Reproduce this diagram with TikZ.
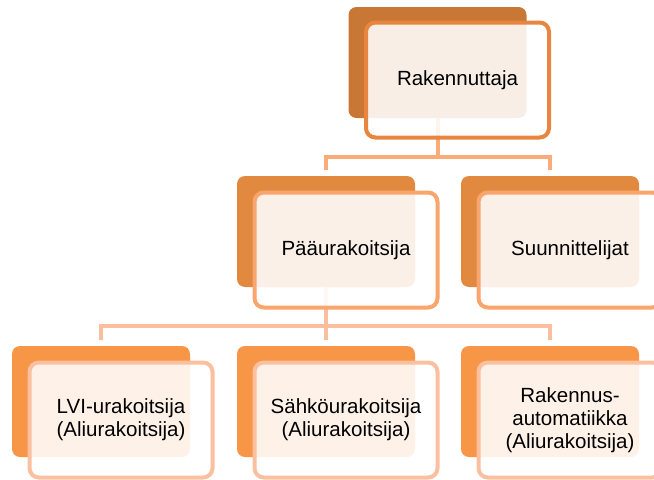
\documentclass[tikz,border=0pt]{standalone}
\usepackage{fontspec}
\setmainfont{Liberation Sans}
\definecolor{topdark}{HTML}{C87734}
\definecolor{topline}{HTML}{E8853F}
\definecolor{middark}{HTML}{E0893F}
\definecolor{midline}{HTML}{F8A56E}
\definecolor{botdark}{HTML}{F79646}
\definecolor{botline}{HTML}{FBC0A0}
\definecolor{connA}{HTML}{F9AC77}
\definecolor{connB}{HTML}{FBBFA0}
\begin{document}
\begin{tikzpicture}[x=0.75pt,y=-0.75pt,
  back/.style={rounded corners=6pt, minimum width=133.5pt, minimum height=83.25pt, inner sep=0pt, outer sep=0pt},
  front/.style={draw, line width=3pt, rounded corners=7pt, fill=white, fill opacity=0.88, text opacity=1,
    minimum width=137.25pt, minimum height=86.25pt, inner sep=0pt, outer sep=0pt, align=center,
    font=\fontsize{15.4}{17.3}\selectfont, text=black},
  conn/.style={line width=3pt}]
\useasboundingbox (0,0) rectangle (654,479);
% hidden placement of back boxes for connector anchors
\node[back] (topd) at (437.5,62.5) {};
\node[back] (pd) at (326,231.5) {};
\node[back] (sd) at (550,231.5) {};
\node[back] (ld) at (101,401.5) {};
\node[back] (shd) at (326,401.5) {};
\node[back] (rd) at (550,401.5) {};
\coordinate (b1) at (437.5,157);
\coordinate (b2) at (326,326);
% connectors
\draw[conn, connA] (topd.south) -- (b1);
\draw[conn, connA] ([yshift=4.5pt]pd.north) |- (b1) -| ([yshift=4.5pt]sd.north);
\draw[conn, connB] (pd.south) -- (b2);
\draw[conn, connB] ([yshift=4.5pt]ld.north) |- (b2) -| ([yshift=4.5pt]rd.north);
\draw[conn, connB] (b2) -- ([yshift=4.5pt]shd.north);
% back boxes
\fill[topdark, rounded corners=6pt] (topd.south west) rectangle (topd.north east);
\fill[middark, rounded corners=6pt] (pd.south west) rectangle (pd.north east);
\fill[middark, rounded corners=6pt] (sd.south west) rectangle (sd.north east);
\fill[botdark, rounded corners=6pt] (ld.south west) rectangle (ld.north east);
\fill[botdark, rounded corners=6pt] (shd.south west) rectangle (shd.north east);
\fill[botdark, rounded corners=6pt] (rd.south west) rectangle (rd.north east);
% front boxes
\node[front, draw=topline] (topf) at (457.5,80) {Rakennuttaja};
\node[front, draw=midline] (pf) at (346,250) {Pääurakoitsija};
\node[front, draw=midline] (sf) at (570,250) {Suunnittelijat};
\node[front, draw=botline] (lf) at (121,420) {LVI-urakoitsija\\(Aliurakoitsija)};
\node[front, draw=botline] (shf) at (346,420) {Sähköurakoitsija\\(Aliurakoitsija)};
\node[front, draw=botline] (rf) at (570,420) {Rakennus-\\automatiikka\\(Aliurakoitsija)};
\end{tikzpicture}
\end{document}
